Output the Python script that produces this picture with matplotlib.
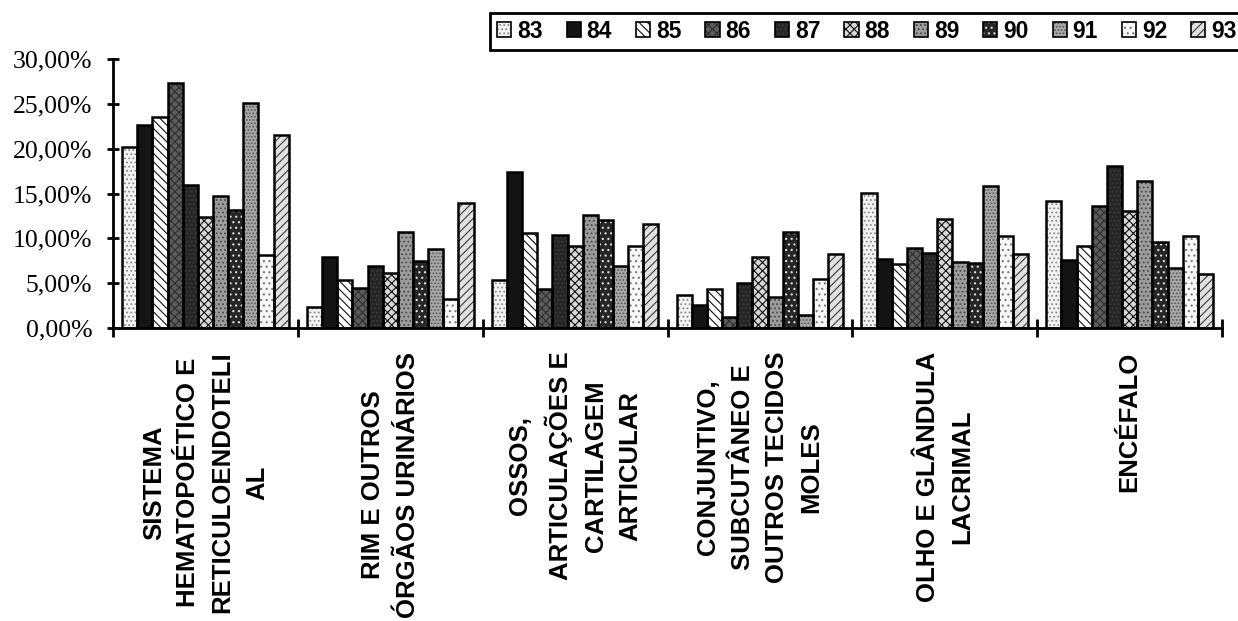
import matplotlib
matplotlib.use("Agg")
import matplotlib.pyplot as plt
from matplotlib.patches import Patch
from matplotlib.legend_handler import HandlerTuple
from matplotlib.ticker import FuncFormatter, FixedLocator
import numpy as np

# localizações (eixo x) e anos (séries)
categorias = [
    "SISTEMA\nHEMATOPOÉTICO E\nRETICULOENDOTELI\nAL",
    "RIM E OUTROS\nÓRGÃOS URINÁRIOS",
    "OSSOS,\nARTICULAÇÕES E\nCARTILAGEM\nARTICULAR",
    "CONJUNTIVO,\nSUBCUTÂNEO E\nOUTROS TECIDOS\nMOLES",
    "OLHO E GLÂNDULA\nLACRIMAL",
    "ENCÉFALO",
]
anos = ["83", "84", "85", "86", "87", "88", "89", "90", "91", "92", "93"]

# percentuais por ano, na ordem das categorias
y83 = [20.2, 2.3, 5.35, 3.7, 15.1, 14.2]
y84 = [22.6, 7.95, 17.4, 2.6, 7.7, 7.6]
y85 = [23.5, 5.3, 10.6, 4.4, 7.1, 9.1]
y86 = [27.3, 4.5, 4.4, 1.2, 8.95, 13.6]
y87 = [15.9, 6.9, 10.4, 5.0, 8.4, 18.1]
y88 = [12.4, 6.1, 9.1, 7.95, 12.2, 13.0]
y89 = [14.7, 10.7, 12.6, 3.5, 7.4, 16.4]
y90 = [13.2, 7.5, 12.0, 10.7, 7.2, 9.55]
y91 = [25.1, 8.8, 6.9, 1.45, 15.8, 6.65]
y92 = [8.1, 3.2, 9.2, 5.5, 10.3, 10.3]
y93 = [21.5, 13.9, 11.6, 8.3, 8.2, 6.0]
series = [y83, y84, y85, y86, y87, y88, y89, y90, y91, y92, y93]

# preenchimento de cada ano: (fundo, hachura, cor da hachura)
estilos = [
    ("#f2f2f2", "....", "#8a8a8a"),
    ("#141414", None, "#141414"),
    ("#ffffff", "\\\\\\\\", "#111111"),
    ("#5c5c5c", "xxxx", "#2e2e2e"),
    ("#262626", "....", "#3c3c3c"),
    ("#d8d8d8", "xxxx", "#111111"),
    ("#9c9c9c", "....", "#4a4a4a"),
    ("#262626", "...", "#e0e0e0"),
    ("#a8a8a8", ".....", "#555555"),
    ("#f7f7f7", "...", "#777777"),
    ("#e2e2e2", "////", "#3a3a3a"),
]

plt.rcParams["hatch.linewidth"] = 0.8

fig = plt.figure(figsize=(12.38, 6.21), dpi=100)
ax = fig.add_axes([0.0913, 0.4718, 0.8958, 0.4332])

n = len(anos)
largura = 0.082
centros = np.arange(len(categorias)) + 0.5

for i, (vals, (fc, hatch, hc)) in enumerate(zip(series, estilos)):
    x = centros + (i - (n - 1) / 2) * largura
    ax.bar(x, vals, largura, color=fc, hatch=hatch, edgecolor=hc, linewidth=0, zorder=2)
    ax.bar(x, vals, largura, fill=False, edgecolor="black", linewidth=1.8, zorder=3)

ax.set_xlim(0, len(categorias))
ax.set_ylim(0, 30)

for lado in ["top", "right"]:
    ax.spines[lado].set_visible(False)
for lado in ["left", "bottom"]:
    ax.spines[lado].set_linewidth(2)

# eixo y: percentuais com vírgula decimal
ax.set_yticks(np.arange(0, 31, 5))
ax.yaxis.set_major_formatter(FuncFormatter(lambda v, p: f"{v:.2f}%".replace(".", ",")))
ax.tick_params(axis="y", direction="inout", length=9, width=2, pad=10.5,
               labelsize=18.5)
for t in ax.get_yticklabels():
    t.set_fontfamily("Liberation Serif")

# eixo x: marcas nas divisões, rótulos no centro dos grupos
ax.xaxis.set_major_locator(FixedLocator(np.arange(0, len(categorias) + 1)))
ax.xaxis.set_major_formatter(FuncFormatter(lambda v, p: ""))
ax.tick_params(axis="x", which="major", direction="inout", length=13, width=2)
ax.xaxis.set_minor_locator(FixedLocator(centros))
ax.set_xticklabels(categorias, minor=True)
ax.tick_params(axis="x", which="minor", length=0, pad=17)
for t in ax.get_xticklabels(minor=True):
    t.set_rotation(90)
    t.set_ha("center")
    t.set_va("top")
    t.set_multialignment("center")
    t.set_fontfamily("Liberation Sans")
    t.set_fontweight("bold")
    t.set_fontsize(18.5)
    t.set_linespacing(1.55)

# legenda em uma linha
handles = []
for fc, hatch, hc in estilos:
    fundo = Patch(facecolor=fc, hatch=hatch, edgecolor=hc, linewidth=0)
    borda = Patch(fill=False, edgecolor="black", linewidth=1.2)
    handles.append((fundo, borda))
leg = fig.legend(handles, anos, loc="upper left",
                 bbox_to_anchor=(490 / 1238, 1 - 13 / 621), ncol=n,
                 handler_map={tuple: HandlerTuple(ndivide=1)},
                 prop={"family": "Liberation Sans", "weight": "bold", "size": 16.5},
                 handlelength=0.62, handleheight=0.62, handletextpad=0.25,
                 columnspacing=1.05, borderpad=0.3, borderaxespad=0,
                 fancybox=False, framealpha=1, edgecolor="black")
leg.get_frame().set_linewidth(2)

fig.savefig("out.png", dpi=100, facecolor="white")
